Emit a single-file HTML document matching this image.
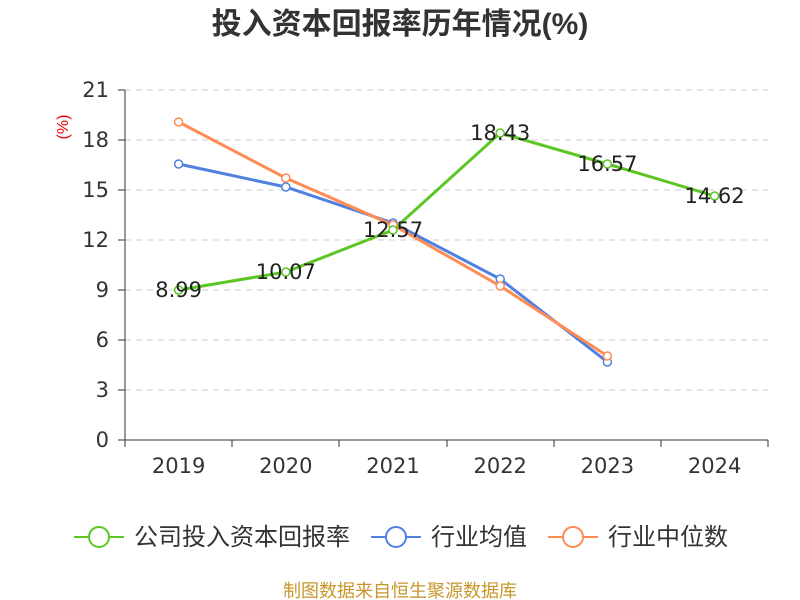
<!DOCTYPE html>
<html><head><meta charset="utf-8"><style>
html,body{margin:0;padding:0;background:#fff;}
svg{display:block;font-family:"DejaVu Sans","Noto Sans CJK SC",sans-serif;}
.cjk{font-family:"Liberation Sans","Noto Sans CJK SC",sans-serif;}
</style></head><body>
<svg width="800" height="600" viewBox="0 0 800 600">
<text class="cjk" x="400" y="34" text-anchor="middle" font-size="30" font-weight="bold" fill="#333">投入资本回报率历年情况(%)</text>
<text class="cjk" transform="translate(68,127) rotate(-90)" text-anchor="middle" font-size="16" fill="#e00">(%)</text>
<g stroke="#ccc" stroke-dasharray="6,5" stroke-width="1">
<line x1="125" y1="90" x2="768" y2="90"/><line x1="125" y1="140" x2="768" y2="140"/>
<line x1="125" y1="190" x2="768" y2="190"/><line x1="125" y1="240" x2="768" y2="240"/>
<line x1="125" y1="290" x2="768" y2="290"/><line x1="125" y1="340" x2="768" y2="340"/>
<line x1="125" y1="390" x2="768" y2="390"/>
</g>
<g stroke="#333" stroke-width="1">
<line x1="125" y1="90" x2="125" y2="440"/>
<line x1="125" y1="440" x2="768" y2="440"/>
<line x1="118" y1="90" x2="125" y2="90"/><line x1="118" y1="140" x2="125" y2="140"/><line x1="118" y1="190" x2="125" y2="190"/><line x1="118" y1="240" x2="125" y2="240"/><line x1="118" y1="290" x2="125" y2="290"/><line x1="118" y1="340" x2="125" y2="340"/><line x1="118" y1="390" x2="125" y2="390"/><line x1="118" y1="440" x2="125" y2="440"/>
<line x1="125" y1="440" x2="125" y2="447"/><line x1="232" y1="440" x2="232" y2="447"/><line x1="339" y1="440" x2="339" y2="447"/><line x1="447" y1="440" x2="447" y2="447"/><line x1="554" y1="440" x2="554" y2="447"/><line x1="661" y1="440" x2="661" y2="447"/><line x1="768" y1="440" x2="768" y2="447"/>
</g>
<g font-size="21" fill="#333" text-anchor="end">
<text x="109" y="97">21</text><text x="109" y="147">18</text><text x="109" y="197">15</text><text x="109" y="247">12</text><text x="109" y="297">9</text><text x="109" y="347">6</text><text x="109" y="397">3</text><text x="109" y="447">0</text>
</g>
<g font-size="21" fill="#333" text-anchor="middle">
<text x="178.6" y="473">2019</text><text x="285.8" y="473">2020</text><text x="393" y="473">2021</text><text x="500.2" y="473">2022</text><text x="607.4" y="473">2023</text><text x="714.6" y="473">2024</text>
</g>
<g fill="none" stroke-width="3">
<polyline stroke="#4f81e0" points="178.6,164 285.8,187 393,223 500.2,279 607.4,362"/>
<polyline stroke="#ff8c55" points="178.6,122 285.8,178 393,225 500.2,286 607.4,356"/>
<polyline stroke="#5cc623" points="178.6,290 285.8,272 393,230 500.2,133 607.4,164 714.6,196"/>
</g>
<g fill="#fff" stroke-width="1.5">
<g stroke="#4f81e0"><circle cx="178.6" cy="164" r="4"/><circle cx="285.8" cy="187" r="4"/><circle cx="393" cy="223" r="4"/><circle cx="500.2" cy="279" r="4"/><circle cx="607.4" cy="362" r="4"/></g>
<g stroke="#ff8c55"><circle cx="178.6" cy="122" r="4"/><circle cx="285.8" cy="178" r="4"/><circle cx="393" cy="225" r="4"/><circle cx="500.2" cy="286" r="4"/><circle cx="607.4" cy="356" r="4"/></g>
<g stroke="#5cc623"><circle cx="178.6" cy="290" r="4"/><circle cx="285.8" cy="272" r="4"/><circle cx="393" cy="230" r="4"/><circle cx="500.2" cy="133" r="4"/><circle cx="607.4" cy="164" r="4"/><circle cx="714.6" cy="196" r="4"/></g>
</g>
<g font-size="21" fill="#222" text-anchor="middle">
<text x="178.6" y="297">8.99</text><text x="285.8" y="279">10.07</text><text x="393" y="237">12.57</text><text x="500.2" y="140">18.43</text><text x="607.4" y="171">16.57</text><text x="714.6" y="203">14.62</text>
</g>
<g stroke-width="2" fill="#fff">
<line x1="74" y1="537" x2="124" y2="537" stroke="#5cc623"/><circle cx="99" cy="537" r="10" stroke="#5cc623"/>
<line x1="371" y1="537" x2="421" y2="537" stroke="#4f81e0"/><circle cx="396" cy="537" r="10" stroke="#4f81e0"/>
<line x1="548" y1="537" x2="598" y2="537" stroke="#ff8c55"/><circle cx="573" cy="537" r="10" stroke="#ff8c55"/>
</g>
<g class="cjk" font-size="24" fill="#333">
<text x="134" y="545">公司投入资本回报率</text><text x="431" y="545">行业均值</text><text x="608" y="545">行业中位数</text>
</g>
<text class="cjk" x="400" y="597" text-anchor="middle" font-size="18" fill="#c9962c">制图数据来自恒生聚源数据库</text>
</svg>
</body></html>
